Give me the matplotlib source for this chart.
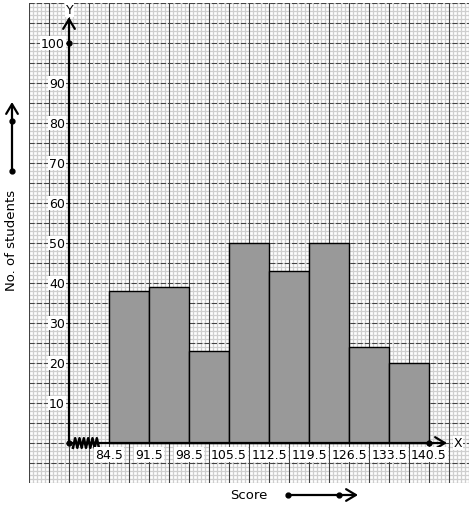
import numpy as np
import matplotlib.pyplot as plt

class_bounds = [84.5, 91.5, 98.5, 105.5, 112.5, 119.5, 126.5, 133.5, 140.5]
students = [38, 39, 23, 50, 43, 50, 24, 20]
y_labels = [10, 20, 30, 40, 50, 60, 70, 80, 90, 100]

fig = plt.figure(figsize=(4.74, 5.10), dpi=100)
ax = fig.add_axes([29 / 474, 26 / 510, 440 / 474, 480 / 510])
ax.set_xlim(-1, 10)
ax.set_ylim(-10, 110)
for s in ax.spines.values():
    s.set_visible(False)
ax.set_xticks([])
ax.set_yticks([])

# graph paper
for x in np.arange(-1, 10.01, 0.1):
    ax.axvline(x, color="#cfcfcf", lw=0.9, zorder=0)
for y in np.arange(-10, 110.01, 1):
    ax.axhline(y, color="#cfcfcf", lw=0.9, zorder=0)
for x in np.arange(-1, 10.01, 0.5):
    ax.axvline(x, color="#444444", lw=0.75, zorder=1)
for y in np.arange(-10, 110.01, 5):
    ax.axhline(y, color="#444444", lw=0.75, zorder=1, ls=(0, (5, 2)))

# bars, one unit per class
pos = np.arange(1, len(class_bounds))
ax.bar(pos, students, width=1, align="edge", color="#999999",
       edgecolor="black", lw=1, zorder=3)

# axes with arrows
arrow = dict(arrowstyle="->,head_length=0.5,head_width=0.3", lw=1.6,
             color="black", mutation_scale=14, shrinkA=0, shrinkB=0)
ax.annotate("", xy=(0, 106.5), xytext=(0, 0), arrowprops=arrow, zorder=5)
ax.annotate("", xy=(9.45, 0), xytext=(0, 0), arrowprops=arrow, zorder=5)
ax.plot([0, 0, 9], [0, 100, 0], "o", color="black", ms=3.5, ls="none", zorder=6)

# axis break zigzag
zx = np.linspace(0.1, 0.75, 13)
zy = np.where(np.arange(13) % 2 == 0, -1.2, 1.2)
ax.plot(zx, zy, color="black", lw=1.8, zorder=6)

ax.text(0.02, 108.3, "Y", ha="center", va="center", fontsize=9,
        bbox=dict(fc="white", ec="none", pad=0.5), zorder=7)
ax.text(9.72, 0, "X", ha="center", va="center", fontsize=9,
        bbox=dict(fc="white", ec="none", pad=0.5), zorder=7)

for v in y_labels:
    ax.text(-0.1, v, str(v), ha="right", va="center", fontsize=9,
            bbox=dict(fc="white", ec="none", pad=0.5), zorder=7)
for i, b in enumerate(class_bounds):
    ax.text(i + 1, -1.3, str(b), ha="center", va="top", fontsize=9,
            bbox=dict(fc="white", ec="none", pad=0.5), zorder=7)

# outer labels with arrows
fig.text(12 / 474, 1 - 240 / 510, "No. of students", rotation=90,
         ha="center", va="center", fontsize=9.5)
fig.text(249 / 474, 1 - 496 / 510, "Score", ha="center", va="center",
         fontsize=9.5)
ax2 = fig.add_axes([0, 0, 1, 1], facecolor="none")
ax2.set_xlim(0, 474)
ax2.set_ylim(510, 0)
ax2.axis("off")
ax2.annotate("", xy=(12, 103), xytext=(12, 172), arrowprops=arrow)
ax2.plot([12, 12], [172, 122], "o", color="black", ms=3.5)
ax2.annotate("", xy=(358, 496), xytext=(288, 496), arrowprops=arrow)
ax2.plot([288, 339], [496, 496], "o", color="black", ms=3.5)

fig.savefig("out.png", dpi=100)
